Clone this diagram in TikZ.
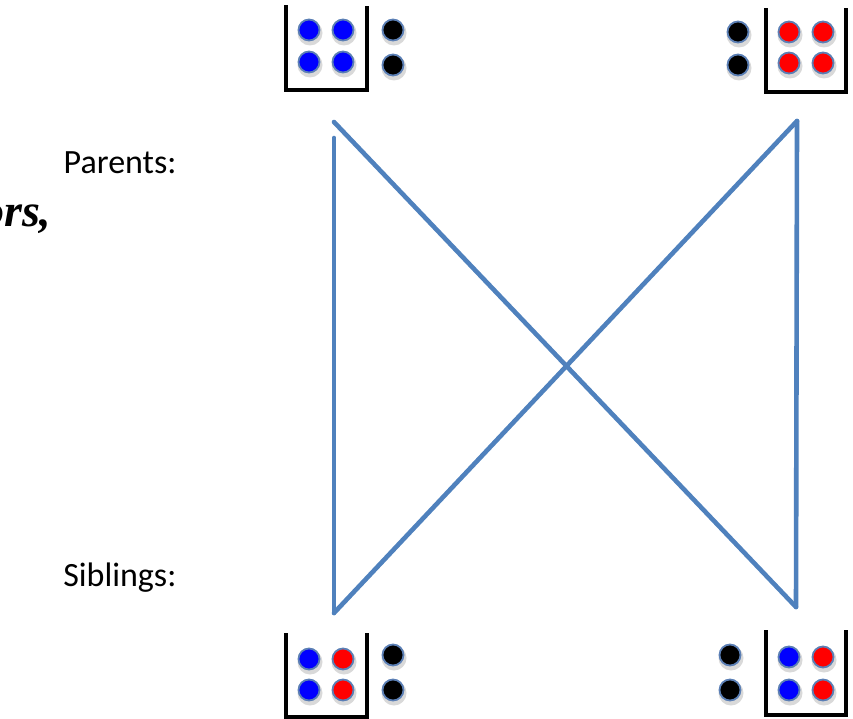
\documentclass[tikz,border=0pt]{standalone}
\usepackage{fontspec}
\setmainfont{Carlito}
\newfontfamily\timesfont{Liberation Serif}
\definecolor{lineblue}{HTML}{4F81BD}
\definecolor{rimblue}{HTML}{5B7FB5}
\definecolor{dotblue}{HTML}{0000FF}
\definecolor{dotred}{HTML}{FF0000}
\tikzset{
  dot/.style={circle, minimum size=21pt, inner sep=0pt, draw=rimblue, line width=1.8pt},
  bdot/.style={dot, fill=dotblue},
  rdot/.style={dot, fill=dotred},
  kdot/.style={dot, fill=black},
  shade/.style={circle, minimum size=25pt, inner sep=0pt, fill=black!15},
  bracket/.style={draw=black, line width=3.2pt, line cap=rect},
  link/.style={draw=lineblue, line width=4.6pt, line cap=round},
  label/.style={font=\fontsize{34}{40}\selectfont, anchor=east}
}
\newcommand{\mydot}[4]{%
  \node[shade] at (#2+1,#3+3) {};
  \node[#1] (#4) at (#2,#3) {};}
\begin{document}
\begin{tikzpicture}[x=1pt,y=-1pt]
\useasboundingbox (0,0) rectangle (853,719);
\clip (0,0) rectangle (853,719);
% top-left parent
\draw[bracket] (286,7) -- (286,90) -- (367,90) -- (367,8);
\mydot{bdot}{309}{30}{tl1}\mydot{bdot}{343}{30}{tl2}
\mydot{bdot}{309}{62}{tl3}\mydot{bdot}{343}{62}{tl4}
\mydot{kdot}{393}{30}{tl5}\mydot{kdot}{393}{65}{tl6}
% top-right parent
\draw[bracket] (766,10) -- (766,92) -- (846,92) -- (846,10);
\mydot{rdot}{789}{32}{tr1}\mydot{rdot}{823}{32}{tr2}
\mydot{rdot}{789}{63}{tr3}\mydot{rdot}{823}{63}{tr4}
\mydot{kdot}{738}{32}{tr5}\mydot{kdot}{738}{65}{tr6}
% bottom-left sibling
\draw[bracket] (286,635) -- (286,717) -- (367,717) -- (367,635);
\mydot{bdot}{309}{659}{bl1}\mydot{rdot}{343}{659}{bl2}
\mydot{bdot}{309}{690}{bl3}\mydot{rdot}{343}{690}{bl4}
\mydot{kdot}{393}{655}{bl5}\mydot{kdot}{393}{690}{bl6}
% bottom-right sibling
\draw[bracket] (766,632) -- (766,715) -- (846,715) -- (846,632);
\mydot{bdot}{789}{657}{br1}\mydot{rdot}{823}{657}{br2}
\mydot{bdot}{789}{690}{br3}\mydot{rdot}{823}{690}{br4}
\mydot{kdot}{730}{655}{br5}\mydot{kdot}{730}{690}{br6}
% connectors
\coordinate (A) at (334,122);
\coordinate (Av) at (334,138);
\coordinate (B) at (797,121);
\coordinate (C) at (334,613);
\coordinate (D) at (796,607);
\draw[link] (A) -- (D);
\draw[link] (B) -- (C);
\draw[link] (Av) -- (C);
\draw[link] (B) -- (D);
% labels
\node[label] (parents) at (180,163) {Parents:};
\node[label] (siblings) at (180,578) {Siblings:};
\node[font=\timesfont\fontsize{46}{52}\selectfont\bfseries\itshape, anchor=base west, inner sep=0pt] (ors) at (-19,227) {ors,};
\end{tikzpicture}
\end{document}
